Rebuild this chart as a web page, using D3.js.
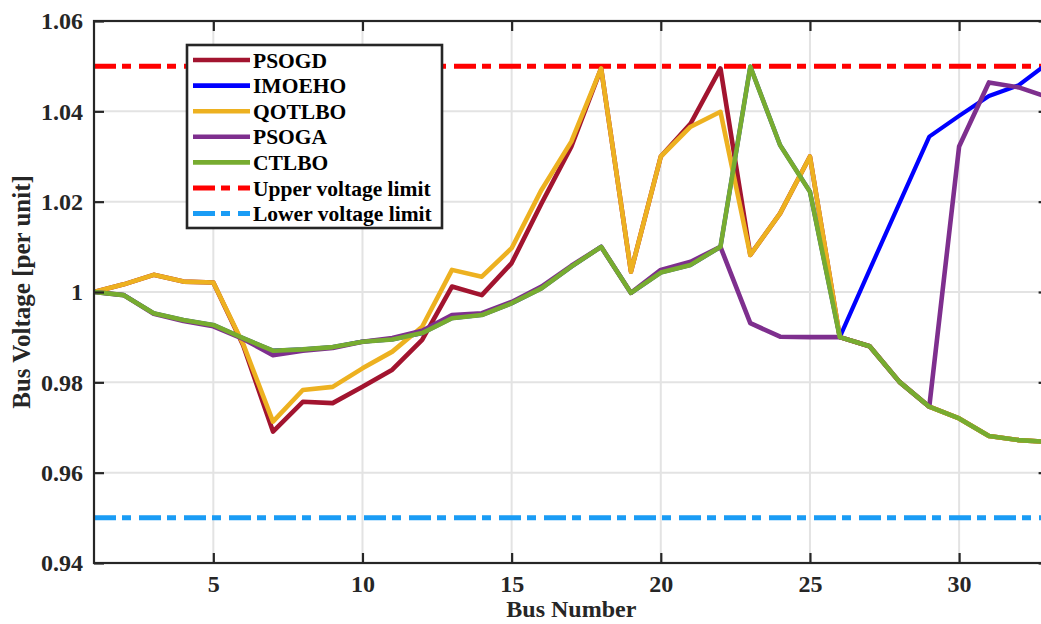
<!DOCTYPE html>
<html><head><meta charset="utf-8">
<script src="https://cdn.jsdelivr.net/npm/d3@7"></script>
<style>body{margin:0;background:#fff}svg{display:block}</style>
</head><body>
<svg id="chart" width="1041" height="624"></svg>
<script>
const buses = [1,2,3,4,5,6,7,8,9,10,11,12,13,14,15,16,17,18,19,20,21,22,23,24,25,26,27,28,29,30,31,32,33];
const PSOGD  = [1.0000,1.0017,1.0038,1.0023,1.0021,0.9882,0.9691,0.9757,0.9754,0.9790,0.9828,0.9894,1.0012,0.9993,1.0064,1.0196,1.0322,1.0495,1.0045,1.0300,1.0373,1.0495,1.0082,1.0174,1.0300,0.9900,0.9880,0.9801,0.9746,0.9720,0.9681,0.9672,0.9668];
const IMOEHO = [1.0000,0.9993,0.9953,0.9938,0.9927,0.9898,0.9870,0.9873,0.9878,0.9890,0.9895,0.9909,0.9942,0.9949,0.9975,1.0008,1.0056,1.0100,0.9998,1.0043,1.0060,1.0100,1.0499,1.0325,1.0222,0.9900,1.0049,1.0197,1.0344,1.0390,1.0434,1.0458,1.0508];
const QOTLBO = [1.0000,1.0017,1.0038,1.0023,1.0021,0.9885,0.9713,0.9783,0.9790,0.9831,0.9868,0.9923,1.0049,1.0034,1.0097,1.0226,1.0333,1.0495,1.0045,1.0300,1.0366,1.0399,1.0082,1.0174,1.0300,0.9900,0.9880,0.9801,0.9746,0.9720,0.9681,0.9672,0.9668];
const PSOGA  = [1.0000,0.9993,0.9952,0.9936,0.9924,0.9896,0.9860,0.9870,0.9876,0.9890,0.9898,0.9914,0.9949,0.9953,0.9978,1.0012,1.0058,1.0100,0.9998,1.0049,1.0067,1.0100,0.9931,0.9901,0.9900,0.9900,0.9880,0.9801,0.9746,1.0322,1.0464,1.0453,1.0431];
const CTLBO  = [1.0000,0.9993,0.9953,0.9938,0.9927,0.9898,0.9870,0.9873,0.9878,0.9890,0.9895,0.9909,0.9942,0.9949,0.9975,1.0008,1.0056,1.0100,0.9998,1.0043,1.0060,1.0100,1.0499,1.0325,1.0222,0.9900,0.9880,0.9801,0.9746,0.9720,0.9681,0.9672,0.9668];
const upperLimit = 1.05;
const lowerLimit = 0.95;
const xTicks = [5,10,15,20,25,30];
const yTicks = [0.94,0.96,0.98,1.00,1.02,1.04,1.06];
const yTickLabels = ["0.94","0.96","0.98","1","1.02","1.04","1.06"];
const seriesNames = ["PSOGD","IMOEHO","QOTLBO","PSOGA","CTLBO"];
const seriesColors = ["#A2142F","#0000FF","#EDB120","#7E2F8E","#77AC30"];
const seriesData = [PSOGD, IMOEHO, QOTLBO, PSOGA, CTLBO];
const limitNames = ["Upper voltage limit","Lower voltage limit"];
const limitColors = ["#FF0000","#1A9CF5"];

const svg = d3.select("#chart");
const L = 94, R = 1048.6, T = 21, B = 563;
const x = d3.scaleLinear().domain([1,33]).range([L,R]);
const y = d3.scaleLinear().domain([0.94,1.06]).range([B,T]);
const font = "Liberation Serif, Tinos, Times, DejaVu Serif, serif";

// grid
const g = svg.append("g");
g.selectAll(".vg").data(xTicks).join("line")
  .attr("x1",d=>x(d)).attr("x2",d=>x(d)).attr("y1",T).attr("y2",B)
  .attr("stroke","#e3e3e3").attr("stroke-width",2);
g.selectAll(".hg").data(yTicks).join("line")
  .attr("x1",L).attr("x2",R).attr("y1",d=>y(d)).attr("y2",d=>y(d))
  .attr("stroke","#e3e3e3").attr("stroke-width",2);

// limit lines
const dash = "22,6,9,8";
[upperLimit, lowerLimit].forEach((v,i)=>{
  svg.append("line").attr("x1",L).attr("x2",R).attr("y1",y(v)).attr("y2",y(v))
    .attr("stroke",limitColors[i]).attr("stroke-width",5).attr("stroke-dasharray",dash);
});

// series
const line = d3.line().x((d,i)=>x(buses[i])).y(d=>y(d));
seriesData.forEach((s,i)=>{
  svg.append("path").datum(s).attr("d",line).attr("fill","none")
    .attr("stroke",seriesColors[i]).attr("stroke-width",i===1?4.2:4.6)
    .attr("stroke-linejoin","round");
});

// axes box and ticks
const xa = svg.append("g").attr("transform",`translate(0,${B})`)
  .call(d3.axisBottom(x).tickValues(xTicks).tickSize(-10).tickPadding(12).tickSizeOuter(0));
const xt = svg.append("g").attr("transform",`translate(0,${T})`)
  .call(d3.axisTop(x).tickValues(xTicks).tickSize(-10).tickFormat("").tickSizeOuter(0));
const ya = svg.append("g").attr("transform",`translate(${L},0)`)
  .call(d3.axisLeft(y).tickValues(yTicks).tickSize(-10).tickPadding(11).tickSizeOuter(0)
    .tickFormat((d,i)=>yTickLabels[i]));
const yr = svg.append("g").attr("transform",`translate(${R},0)`)
  .call(d3.axisRight(y).tickValues(yTicks).tickSize(-10).tickFormat("").tickSizeOuter(0));
[xa,xt,ya,yr].forEach(a=>{
  a.select(".domain").remove();
  a.selectAll(".tick line").attr("stroke","#262626").attr("stroke-width",2.2);
  a.selectAll("text").attr("fill","#262626").attr("font-family",font)
    .attr("font-weight","bold").attr("font-size","24px");
});
svg.append("rect").attr("x",L).attr("y",T).attr("width",R-L).attr("height",B-T)
  .attr("fill","none").attr("stroke","#262626").attr("stroke-width",2.2);

// axis titles
svg.append("text").attr("x",(L+R)/2).attr("y",617).attr("text-anchor","middle")
  .attr("font-family",font).attr("font-weight","bold").attr("font-size","24px")
  .attr("fill","#262626").text("Bus Number");
svg.append("text").attr("transform",`translate(30,${(T+B)/2}) rotate(-90)`)
  .attr("text-anchor","middle")
  .attr("font-family",font).attr("font-weight","bold").attr("font-size","25px")
  .attr("fill","#262626").text("Bus Voltage [per unit]");

// legend
const lg = svg.append("g");
lg.append("rect").attr("x",187).attr("y",45).attr("width",255).attr("height",183)
  .attr("fill","#fff").attr("stroke","#262626").attr("stroke-width",2.6);
const rowY = [60,85.6,111.2,136.8,162.4,188,213.6];
const legItems = seriesNames.map((n,i)=>({name:n,color:seriesColors[i],dash:null}))
  .concat(limitNames.map((n,i)=>({name:n,color:limitColors[i],dash:dash})));
legItems.forEach((it,i)=>{
  lg.append("line").attr("x1",193).attr("x2",250).attr("y1",rowY[i]).attr("y2",rowY[i])
    .attr("stroke",it.color).attr("stroke-width",it.dash?5:4.6)
    .attr("stroke-dasharray",it.dash);
  lg.append("text").attr("x",253).attr("y",rowY[i]).attr("dy","0.35em")
    .attr("font-family",font).attr("font-weight","bold").attr("font-size","21.5px")
    .attr("fill","#000").text(it.name);
});
</script>
</body></html>
